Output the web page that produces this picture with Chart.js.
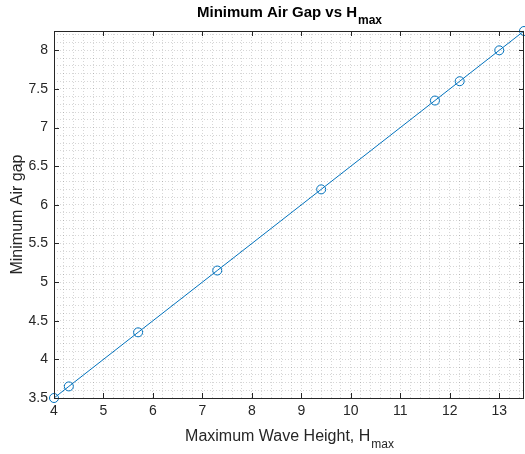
<!DOCTYPE html>
<html>
<head>
<meta charset="utf-8">
<script src="https://cdn.jsdelivr.net/npm/chart.js@4"></script>
<style>
  html, body { margin: 0; padding: 0; background: #fff; }
  #wrap { width: 525px; height: 454px; }
</style>
</head>
<body>
<div id="wrap"><canvas id="airGapChart" width="525" height="454"></canvas></div>
<script>
const waveHeight = [4, 4.3, 5.7, 7.3, 9.4, 11.7, 12.2, 13, 13.5];
const minAirGap = [3.5, 3.65, 4.35, 5.15, 6.2, 7.35, 7.6, 8.0, 8.25];
const xTickLabels = [4, 5, 6, 7, 8, 9, 10, 11, 12, 13];
const yTickLabels = [3.5, 4, 4.5, 5, 5.5, 6, 6.5, 7, 7.5, 8];

const FONT = '"Liberation Sans", Arial, Helvetica, sans-serif';
const INK = '#262626';
const LINE = '#0072BD';

// minor grid every 0.2 on x, 0.1 on y
function minorTicks(min, max, step) {
  const out = [];
  const n = Math.round((max - min) / step);
  for (let i = 0; i <= n; i++) out.push({ value: Math.round((min + i * step) * 100) / 100 });
  return out;
}

// box, inward tick marks, title and axis labels like a matlab figure
const matlabAxes = {
  id: 'matlabAxes',
  afterDatasetsDraw(chart) {
    const { ctx, chartArea: a, scales } = chart;
    ctx.save();
    ctx.strokeStyle = INK;
    ctx.lineWidth = 1;
    ctx.beginPath();
    xTickLabels.forEach(v => {
      const x = Math.round(scales.x.getPixelForValue(v)) + 0.5;
      ctx.moveTo(x, a.bottom); ctx.lineTo(x, a.bottom - 5);
      ctx.moveTo(x, a.top); ctx.lineTo(x, a.top + 5);
    });
    yTickLabels.forEach(v => {
      const y = Math.round(scales.y.getPixelForValue(v)) + 0.5;
      ctx.moveTo(a.left, y); ctx.lineTo(a.left + 5, y);
      ctx.moveTo(a.right, y); ctx.lineTo(a.right - 5, y);
    });
    ctx.stroke();
    ctx.strokeRect(Math.round(a.left) + 0.5, Math.round(a.top) + 0.5,
      Math.round(a.right - a.left) - 1, Math.round(a.bottom - a.top));
    ctx.restore();
  },
  afterDraw(chart) {
    const { ctx, chartArea: a } = chart;
    const cx = (a.left + a.right) / 2;
    ctx.save();

    function subText(main, sub, mainFont, subFont, centerX, baseY, subDrop) {
      ctx.font = mainFont;
      const w1 = ctx.measureText(main).width;
      ctx.font = subFont;
      const w2 = ctx.measureText(sub).width;
      const x0 = centerX - (w1 + w2) / 2;
      ctx.textAlign = 'left';
      ctx.textBaseline = 'alphabetic';
      ctx.font = mainFont;
      ctx.fillText(main, x0, baseY);
      ctx.font = subFont;
      ctx.fillText(sub, x0 + w1 + 1, baseY + subDrop);
    }

    ctx.fillStyle = '#000';
    subText('Minimum Air Gap vs H', 'max', 'bold 15px ' + FONT, 'bold 12px ' + FONT, cx, 17, 7);

    ctx.fillStyle = INK;
    subText('Maximum Wave Height, H', 'max', '16px ' + FONT, '12px ' + FONT, cx, 441, 7);

    ctx.translate(22, (a.top + a.bottom) / 2);
    ctx.rotate(-Math.PI / 2);
    ctx.font = '16px ' + FONT;
    ctx.textAlign = 'center';
    ctx.textBaseline = 'alphabetic';
    ctx.fillText('Minimum Air gap', 0, 0);
    ctx.restore();
  }
};

const ctx = document.getElementById('airGapChart').getContext('2d');

const airGapChart = new Chart(ctx, {
  type: 'scatter',
  data: {
    datasets: [{
      label: 'Minimum Air Gap',
      data: waveHeight.map((h, i) => ({ x: h, y: minAirGap[i] })),
      showLine: true,
      borderColor: LINE,
      borderWidth: 1,
      pointStyle: 'circle',
      pointRadius: 4.5,
      pointBorderWidth: 1,
      pointBorderColor: LINE,
      pointBackgroundColor: 'rgba(0,0,0,0)',
      clip: false
    }]
  },
  options: {
    responsive: false,
    animation: false,
    layout: { autoPadding: false, padding: { top: 31, right: 1, left: 0, bottom: 0 } },
    plugins: {
      legend: { display: false },
      title: { display: false },
      tooltip: { enabled: false }
    },
    scales: {
      x: {
        type: 'linear',
        min: 4,
        max: 13.5,
        afterBuildTicks: s => { s.ticks = minorTicks(4, 13.4, 0.2); },
        afterFit: s => { s.height = 56; s.paddingRight = 0; s.paddingLeft = 0; },
        grid: { color: 'rgba(0,0,0,0.16)', drawTicks: false },
        border: { display: false, dash: [1, 2] },
        ticks: {
          autoSkip: false,
          maxRotation: 0,
          padding: 5,
          color: INK,
          font: { family: FONT, size: 14 },
          callback: v => xTickLabels.includes(v) ? String(v) : ''
        }
      },
      y: {
        type: 'linear',
        min: 3.5,
        max: 8.25,
        afterBuildTicks: s => { s.ticks = minorTicks(3.5, 8.2, 0.1); },
        afterFit: s => { s.width = 54; },
        grid: { color: 'rgba(0,0,0,0.16)', drawTicks: false },
        border: { display: false, dash: [1, 2] },
        ticks: {
          autoSkip: false,
          padding: 6,
          color: INK,
          font: { family: FONT, size: 14 },
          callback: v => yTickLabels.includes(v) ? String(v) : ''
        }
      }
    }
  },
  plugins: [matlabAxes]
});
</script>
</body>
</html>
